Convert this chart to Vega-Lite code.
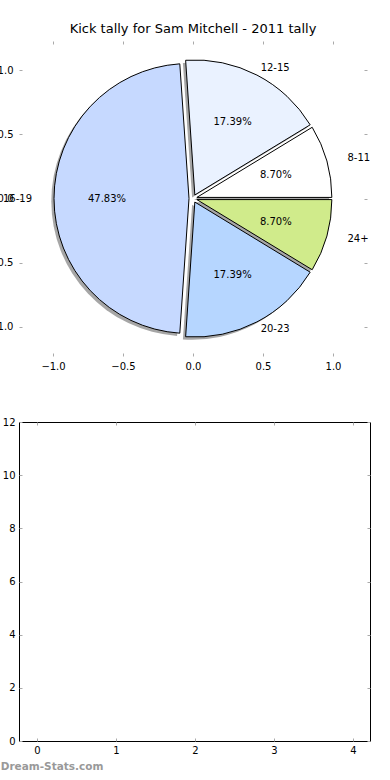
{
  "$schema": "https://vega.github.io/schema/vega-lite/v6.json",
  "padding": {"left": -12, "top": 22, "right": 0, "bottom": 0},
  "spacing": 45,
  "config": {
    "font": "DejaVu Sans",
    "axis": {"grid": false, "domain": false, "tickColor": "#aaaaaa", "tickSize": -3, "tickWidth": 1, "labelFont": "DejaVu Sans", "labelFontSize": 10, "labelColor": "#000000"},
    "title": {"font": "DejaVu Sans", "fontWeight": "normal", "color": "#000000"}
  },
  "datasets": {
    "kicks": [
      {"label": "8-11", "kicks": 2, "pct": "8.70%"},
      {"label": "12-15", "kicks": 4, "pct": "17.39%"},
      {"label": "16-19", "kicks": 11, "pct": "47.83%"},
      {"label": "20-23", "kicks": 4, "pct": "17.39%"},
      {"label": "24+", "kicks": 2, "pct": "8.70%"}
    ]
  },
  "title": {"text": "Dream-Stats.com", "orient": "bottom", "anchor": "start", "frame": "bounds", "fontSize": 10.5, "fontWeight": "bold", "color": "#999999", "offset": 6, "dx": 12},
  "vconcat": [
    {
      "width": 348,
      "height": 315,
      "title": {"text": "Kick tally for Sam Mitchell - 2011 tally", "fontSize": 13, "offset": 5},
      "view": {"stroke": null},
      "data": {"name": "kicks"},
      "transform": [{"stack": "kicks", "groupby": [], "as": ["t0", "t1"]}],
      "layer": [
        {
          "data": {"values": []},
          "mark": {"type": "point", "opacity": 0},
          "encoding": {
            "x": {"field": "x", "type": "quantitative", "scale": {"domain": [-1.243, 1.243], "nice": false, "zero": false}, "axis": {"orient": "bottom", "values": [-1, -0.5, 0, 0.5, 1], "format": ".1f", "title": null, "labelPadding": 8}},
            "y": {"field": "y", "type": "quantitative", "scale": {"domain": [-1.23, 1.23], "nice": false, "zero": false}, "axis": {"orient": "left", "values": [-1, -0.5, 0, 0.5, 1], "format": ".1f", "title": null, "labelPadding": 9}}
          }
        },
        {
          "data": {"values": []},
          "mark": {"type": "point", "opacity": 0},
          "encoding": {
            "x": {"field": "x", "type": "quantitative", "axis": {"orient": "top", "values": [-1, -0.5, 0, 0.5, 1], "labels": false, "title": null}},
            "y": {"field": "y", "type": "quantitative", "axis": {"orient": "right", "values": [-1, -0.5, 0, 0.5, 1], "labels": false, "title": null}}
          }
        },
        {"transform": [{"filter": {"field": "label", "equal": "8-11"}}], "mark": {"type": "arc", "radius": 135, "fill": "#000000", "fillOpacity": 0.35, "xOffset": 1.1, "yOffset": 1.6}, "encoding": {"theta": {"field": "t0", "type": "quantitative", "stack": null, "scale": {"domain": [0, 23], "range": [1.5708, -4.7124]}}, "theta2": {"field": "t1"}}},
        {"transform": [{"filter": {"field": "label", "equal": "12-15"}}], "mark": {"type": "arc", "radius": 135, "fill": "#000000", "fillOpacity": 0.35, "xOffset": -0.9, "yOffset": -0.9}, "encoding": {"theta": {"field": "t0", "type": "quantitative", "stack": null}, "theta2": {"field": "t1"}}},
        {"transform": [{"filter": {"field": "label", "equal": "16-19"}}], "mark": {"type": "arc", "radius": 135, "fill": "#000000", "fillOpacity": 0.35, "xOffset": -6.7, "yOffset": 2.7}, "encoding": {"theta": {"field": "t0", "type": "quantitative", "stack": null}, "theta2": {"field": "t1"}}},
        {"transform": [{"filter": {"field": "label", "equal": "20-23"}}], "mark": {"type": "arc", "radius": 135, "fill": "#000000", "fillOpacity": 0.35, "xOffset": -0.9, "yOffset": 6.2}, "encoding": {"theta": {"field": "t0", "type": "quantitative", "stack": null}, "theta2": {"field": "t1"}}},
        {"transform": [{"filter": {"field": "label", "equal": "24+"}}], "mark": {"type": "arc", "radius": 135, "fill": "#000000", "fillOpacity": 0.35, "xOffset": 1.1, "yOffset": 3.8}, "encoding": {"theta": {"field": "t0", "type": "quantitative", "stack": null}, "theta2": {"field": "t1"}}},
        {"transform": [{"filter": {"field": "label", "equal": "8-11"}}], "mark": {"type": "arc", "radius": 135, "fill": "#ffffff", "stroke": "#000000", "strokeWidth": 1, "xOffset": 3.85, "yOffset": -1.08}, "encoding": {"theta": {"field": "t0", "type": "quantitative", "stack": null}, "theta2": {"field": "t1"}}},
        {"transform": [{"filter": {"field": "label", "equal": "12-15"}}], "mark": {"type": "arc", "radius": 135, "fill": "#eaf2ff", "stroke": "#000000", "strokeWidth": 1, "xOffset": 1.84, "yOffset": -3.55}, "encoding": {"theta": {"field": "t0", "type": "quantitative", "stack": null}, "theta2": {"field": "t1"}}},
        {"transform": [{"filter": {"field": "label", "equal": "16-19"}}], "mark": {"type": "arc", "radius": 135, "fill": "#c6d9ff", "stroke": "#000000", "strokeWidth": 1, "xOffset": -4, "yOffset": 0}, "encoding": {"theta": {"field": "t0", "type": "quantitative", "stack": null}, "theta2": {"field": "t1"}}},
        {"transform": [{"filter": {"field": "label", "equal": "20-23"}}], "mark": {"type": "arc", "radius": 135, "fill": "#b6d6ff", "stroke": "#000000", "strokeWidth": 1, "xOffset": 1.84, "yOffset": 3.55}, "encoding": {"theta": {"field": "t0", "type": "quantitative", "stack": null}, "theta2": {"field": "t1"}}},
        {"transform": [{"filter": {"field": "label", "equal": "24+"}}], "mark": {"type": "arc", "radius": 135, "fill": "#d0eb8b", "stroke": "#000000", "strokeWidth": 1, "xOffset": 3.85, "yOffset": 1.08}, "encoding": {"theta": {"field": "t0", "type": "quantitative", "stack": null}, "theta2": {"field": "t1"}}},
        {"mark": {"type": "text", "radius": 86, "fontSize": 10, "font": "DejaVu Sans", "color": "#000000"}, "encoding": {"theta": {"field": "kicks", "type": "quantitative", "stack": true}, "order": {"field": "t0", "type": "quantitative", "sort": "ascending"}, "text": {"field": "pct"}}},
        {"mark": {"type": "text", "radius": 147, "align": "left", "baseline": "middle", "fontSize": 10, "font": "DejaVu Sans", "color": "#000000"}, "encoding": {"theta": {"field": "kicks", "type": "quantitative", "stack": true}, "order": {"field": "t0", "type": "quantitative", "sort": "ascending"}, "text": {"field": "label", "condition": {"test": "datum.label !== '12-15' && datum.label !== '20-23'", "value": ""}}}},
        {"mark": {"type": "text", "radius": 150, "align": "left", "baseline": "middle", "xOffset": 10, "fontSize": 10, "font": "DejaVu Sans", "color": "#000000"}, "encoding": {"theta": {"field": "kicks", "type": "quantitative", "stack": true}, "order": {"field": "t0", "type": "quantitative", "sort": "ascending"}, "text": {"field": "label", "condition": {"test": "datum.label !== '8-11' && datum.label !== '24+'", "value": ""}}}},
        {"mark": {"type": "text", "radius": 150, "align": "right", "baseline": "middle", "xOffset": -11, "fontSize": 10, "font": "DejaVu Sans", "color": "#000000"}, "encoding": {"theta": {"field": "kicks", "type": "quantitative", "stack": true}, "order": {"field": "t0", "type": "quantitative", "sort": "ascending"}, "text": {"field": "label", "condition": {"test": "datum.label !== '16-19'", "value": ""}}}}
      ],
      "resolve": {"axis": {"x": "independent", "y": "independent"}}
    },
    {
      "width": 351,
      "height": 319,
      "view": {"stroke": "#000000", "strokeWidth": 1},
      "layer": [
        {
          "data": {"values": []},
          "mark": {"type": "point", "opacity": 0},
          "encoding": {
            "x": {"field": "x", "type": "quantitative", "scale": {"domain": [-0.228, 4.215], "nice": false, "zero": false}, "axis": {"orient": "bottom", "values": [0, 1, 2, 3, 4], "title": null, "labelPadding": 7}},
            "y": {"field": "y", "type": "quantitative", "scale": {"domain": [0, 12], "nice": false, "zero": false}, "axis": {"orient": "left", "values": [0, 2, 4, 6, 8, 10, 12], "title": null, "labelPadding": 7}}
          }
        },
        {
          "data": {"values": []},
          "mark": {"type": "point", "opacity": 0},
          "encoding": {
            "x": {"field": "x", "type": "quantitative", "axis": {"orient": "top", "values": [0, 1, 2, 3, 4], "labels": false, "title": null}},
            "y": {"field": "y", "type": "quantitative", "axis": {"orient": "right", "values": [0, 2, 4, 6, 8, 10, 12], "labels": false, "title": null}}
          }
        }
      ],
      "resolve": {"axis": {"x": "independent", "y": "independent"}}
    }
  ]
}
